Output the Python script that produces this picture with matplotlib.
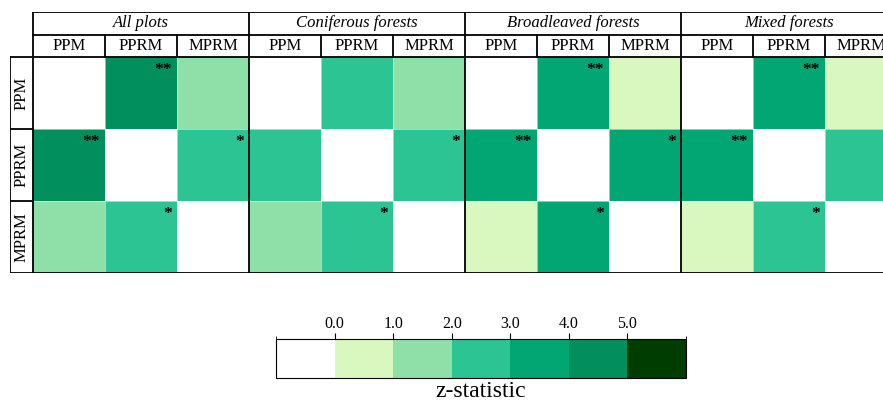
import numpy as np
import matplotlib
matplotlib.use('Agg')
import matplotlib.pyplot as plt
from matplotlib.colors import ListedColormap, BoundaryNorm

plt.rcParams['font.family'] = ['Liberation Serif', 'DejaVu Serif']

groups = ['All plots', 'Coniferous forests', 'Broadleaved forests', 'Mixed forests']
methods = ['PPM', 'PPRM', 'MPRM']

# pairwise z-statistics (rows/cols: PPM, PPRM, MPRM), diagonal empty
z_all = [[np.nan, 4.3, 1.6], [4.3, np.nan, 2.4], [1.6, 2.4, np.nan]]
z_conif = [[np.nan, 2.6, 1.4], [2.6, np.nan, 2.2], [1.4, 2.2, np.nan]]
z_broad = [[np.nan, 3.5, 0.6], [3.5, np.nan, 3.1], [0.6, 3.1, np.nan]]
z_mixed = [[np.nan, 3.4, 0.5], [3.4, np.nan, 2.5], [0.5, 2.5, np.nan]]

sig_all = [['', '**', ''], ['**', '', '*'], ['', '*', '']]
sig_conif = [['', '', ''], ['', '', '*'], ['', '*', '']]
sig_broad = [['', '**', ''], ['**', '', '*'], ['', '*', '']]
sig_mixed = [['', '**', ''], ['**', '', '*'], ['', '*', '']]

bounds = [-1, 0, 1, 2, 3, 4, 5, 6]
tick_vals = [0, 1, 2, 3, 4, 5]
colors = ['#ffffff', '#d9f8bf', '#8ee0a8', '#2cc493', '#02a673', '#008f5d', '#003d00']

z = np.hstack([np.array(m) for m in (z_all, z_conif, z_broad, z_mixed)])
sig = np.hstack([np.array(s) for s in (sig_all, sig_conif, sig_broad, sig_mixed)])

cmap = ListedColormap(colors)
cmap.set_bad('white')
norm = BoundaryNorm(bounds, cmap.N)

fig = plt.figure(figsize=(8.83, 4.03), dpi=100)
W, H = 883, 403
# axes spans row-label column + 12 cells (72 px each), right side clipped by figure
ax = fig.add_axes([10 / W, 130 / H, 887 / W, 261 / H])
hl = 23 / 72.0   # row label column width
hh = 45 / 72.0   # header height (two rows)
ax.set_xlim(-hl, 12)
ax.set_ylim(3, -hh)
ax.axis('off')

im = ax.imshow(z, cmap=cmap, norm=norm, extent=(0, 12, 3, 0), aspect='auto',
               interpolation='nearest')

# faint cell separators
for k in range(1, 12):
    ax.plot([k, k], [0, 3], color='white', lw=0.6, alpha=0.6)
for k in range(1, 3):
    ax.plot([0, 12], [k, k], color='white', lw=0.6, alpha=0.6)

lw = 1.3
mid = -hh / 2 + 0.005
ax.plot([0, 12], [-hh, -hh], color='k', lw=lw)
ax.plot([0, 12], [mid, mid], color='k', lw=lw)
ax.plot([-hl, 12], [0, 0], color='k', lw=lw)
ax.plot([-hl, 12], [3, 3], color='k', lw=lw)
ax.plot([-hl, -hl], [0, 3], color='k', lw=lw)
ax.plot([0, 0], [-hh, 3], color='k', lw=lw)
for g in range(1, 4):
    ax.plot([3 * g, 3 * g], [-hh, 3], color='k', lw=lw)
for k in range(12):
    if k % 3:
        ax.plot([k, k], [mid, 0], color='k', lw=lw)
for k in (1, 2):
    ax.plot([-hl, 0], [k, k], color='k', lw=lw)

for g, name in enumerate(groups):
    ax.text(3 * g + 1.5, (-hh + mid) / 2, name, ha='center', va='center',
            fontsize=12, style='italic')
    for j, m in enumerate(methods):
        ax.text(3 * g + j + 0.5, mid / 2, m, ha='center', va='center', fontsize=12)

for i, m in enumerate(methods):
    ax.text(-hl / 2, i + 0.5, m, ha='center', va='center', rotation=90, fontsize=12)

for i in range(3):
    for j in range(12):
        if sig[i, j]:
            ax.text(j + 0.93, i + 0.07, sig[i, j], ha='right', va='top',
                    fontsize=12.5, fontweight='bold')

cax = fig.add_axes([276 / W, 25 / H, 410 / W, 39 / H])
cb = fig.colorbar(im, cax=cax, orientation='horizontal', ticks=tick_vals,
                  spacing='uniform')
cax.xaxis.set_ticks_position('top')
cax.set_xticklabels(['%.1f' % t for t in tick_vals], fontsize=11.5)
cax.tick_params(axis='x', length=4, width=0.8, pad=1)
cb.outline.set_linewidth(0.8)
cax.text(0.5, -0.08, 'z-statistic', transform=cax.transAxes, ha='center',
         va='top', fontsize=17)

fig.savefig('out.png', dpi=100)
